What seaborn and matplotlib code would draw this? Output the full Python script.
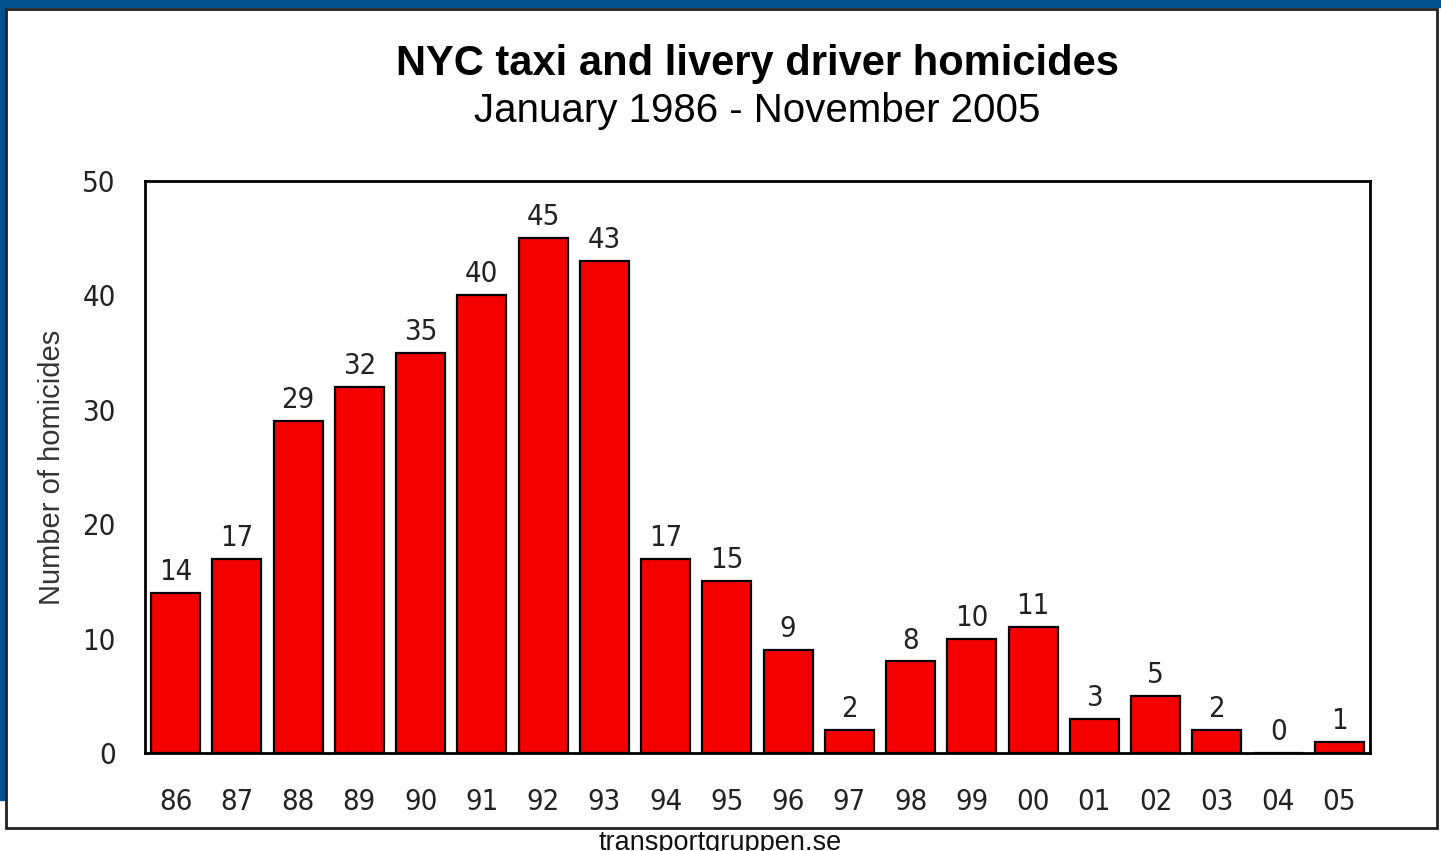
import matplotlib
matplotlib.use('Agg')
import matplotlib.pyplot as plt
from matplotlib import font_manager
import seaborn as sns
import pandas as pd
from matplotlib.patches import Rectangle

# Data
years = ['86', '87', '88', '89', '90', '91', '92', '93', '94', '95',
         '96', '97', '98', '99', '00', '01', '02', '03', '04', '05']
homicides = [14, 17, 29, 32, 35, 40, 45, 43, 17, 15,
             9, 2, 8, 10, 11, 3, 5, 2, 0, 1]
yticks = [0, 10, 20, 30, 40, 50]

df = pd.DataFrame({'year': years, 'homicides': homicides})

sns.set_style('white')
plt.rcParams['font.family'] = ['Liberation Sans', 'DejaVu Sans']

# narrow font for the ticks and value labels, if one is there
installed = {f.name for f in font_manager.fontManager.ttflist}
condensed = [f for f in font_manager.fontManager.ttflist
             if f.name == 'DejaVu Sans' and f.stretch == 'condensed']
if 'Liberation Sans Narrow' in installed:
    narrow = dict(family='Liberation Sans Narrow')
    tick_size = 22
elif condensed:
    narrow = dict(family='DejaVu Sans', stretch='condensed')
    tick_size = 21
else:
    narrow = dict(family='DejaVu Sans')
    tick_size = 18

fig = plt.figure(figsize=(14.41, 8.51), dpi=100)
ax = fig.add_axes([145 / 1441, 1 - 753 / 851, 1225 / 1441, 572 / 851])

sns.barplot(data=df, x='year', y='homicides', color='#f50000', saturation=1,
            edgecolor='black', linewidth=1.6, width=0.8, ax=ax)

ax.set_ylim(0, 50)
ax.set_yticks(yticks)
ax.set_xlim(-0.5, len(years) - 0.5)
ax.tick_params(axis='both', length=0, labelsize=tick_size)
ax.tick_params(axis='y', pad=21)
ax.tick_params(axis='x', pad=25)
for lab in ax.get_xticklabels() + ax.get_yticklabels():
    lab.set_fontproperties(font_manager.FontProperties(size=tick_size, **narrow))
    lab.set_color('#222222')

for s in ax.spines.values():
    s.set_linewidth(2)
    s.set_color('black')

ax.bar_label(ax.containers[0], labels=[str(v) for v in homicides],
             padding=5, fontsize=tick_size, color='#222222', **narrow)

ax.set_xlabel('')
ax.set_ylabel('Number of homicides', fontsize=21, color='#333333', labelpad=12)

# titles
cx = (145 + 1370) / 2 / 1441
fig.text(cx, 1 - 75 / 851, 'NYC taxi and livery driver homicides',
         ha='center', va='baseline', fontsize=30, fontweight='bold', color='black')
fig.text(cx, 1 - 122 / 851, 'January 1986 - November 2005',
         ha='center', va='baseline', fontsize=29, color='black')

# page frame
blue = '#00528f'
fig.patches.append(Rectangle((0, 1 - 7 / 851), 1, 7 / 851, transform=fig.transFigure,
                             color=blue, zorder=0))
fig.patches.append(Rectangle((0, 1 - 800 / 851), 5 / 1441, 800 / 851,
                             transform=fig.transFigure, color=blue, zorder=0))
fig.patches.append(Rectangle((6 / 1441, 1 - 828 / 851), 1431 / 1441, 819 / 851,
                             transform=fig.transFigure, facecolor='none',
                             edgecolor='#222222', linewidth=2, zorder=1))

fig.text(720 / 1441, 1 - 850 / 851, 'transportgruppen.se', ha='center',
         va='baseline', fontsize=19.5, color='#111111')

fig.savefig('out.png', dpi=100)
